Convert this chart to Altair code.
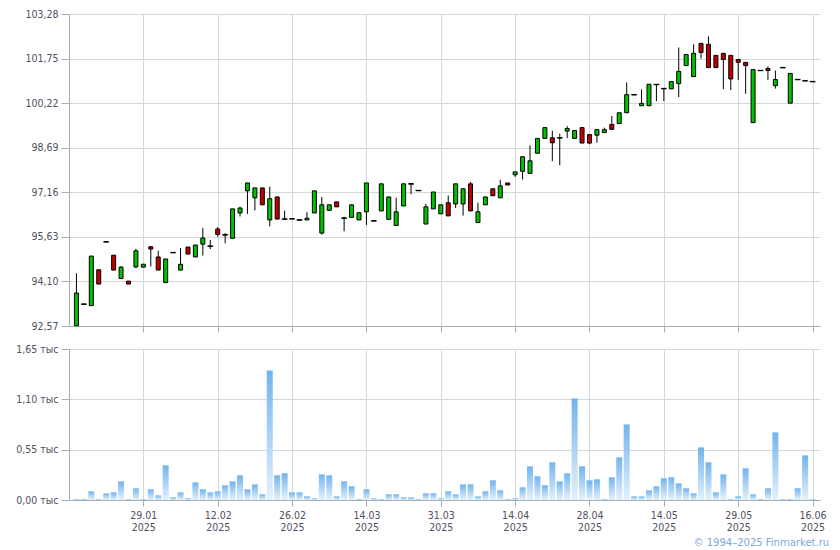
import altair as alt
import pandas as pd

# ---- data ----
opens = [92.58, 93.32, 93.27, 94.50, 95.46, 95.00, 94.20, 94.11, 94.60, 94.59,
         95.29, 94.94, 94.06, 95.09, 94.49, 95.28, 94.94, 95.38, 95.31, 95.90,
         95.70, 95.58, 96.45, 97.21, 96.97, 97.31, 96.21, 97.00, 96.24, 96.25,
         96.21, 96.21, 96.45, 95.76, 96.54, 96.83, 96.27, 96.30, 96.21, 96.49,
         96.18, 96.52, 96.23, 96.02, 96.69, 97.45, 97.22, 96.07, 96.59, 96.42,
         96.80, 96.76, 96.76, 97.45, 96.12, 96.73, 97.28, 96.97, 97.48, 97.76,
         97.88, 97.81, 98.50, 99.01, 99.03, 99.03, 99.26, 99.01, 99.38, 99.14,
         99.12, 99.21, 99.49, 99.52, 99.89, 100.51, 100.13, 100.13, 100.86, 100.72,
         100.71, 100.89, 101.51, 101.13, 102.27, 102.24, 101.86, 101.93, 101.86, 101.72,
         101.62, 99.55, 101.34, 101.41, 100.82, 101.44, 100.22, 101.03, 100.99, 100.96]
highs = [94.38, 93.32, 94.97, 94.50, 95.46, 95.00, 94.63, 94.11, 95.22, 94.69,
         95.31, 95.15, 94.87, 95.09, 95.25, 95.28, 95.35, 95.93, 95.52, 95.97,
         95.76, 96.59, 96.66, 97.48, 97.31, 97.31, 97.35, 97.00, 96.53, 96.25,
         96.21, 96.48, 97.21, 97.00, 96.73, 96.83, 96.32, 96.73, 96.46, 97.48,
         96.18, 97.45, 97.00, 96.97, 97.45, 97.45, 97.22, 96.76, 97.17, 96.73,
         97.05, 97.45, 97.28, 97.52, 96.80, 97.00, 97.28, 97.59, 97.48, 97.86,
         98.38, 98.77, 99.01, 99.38, 99.27, 99.17, 99.43, 99.28, 99.38, 99.14,
         99.31, 99.38, 99.78, 99.89, 100.93, 100.51, 100.69, 100.87, 100.86, 100.72,
         100.96, 102.13, 101.89, 102.24, 102.27, 102.51, 101.86, 101.93, 101.86, 101.72,
         101.62, 101.37, 101.34, 101.48, 101.34, 101.44, 101.24, 101.03, 100.99, 100.96]
lows = [92.58, 93.32, 93.27, 94.01, 95.46, 94.49, 94.18, 94.01, 94.55, 94.59,
        94.61, 94.49, 94.06, 95.09, 94.49, 95.04, 94.94, 94.99, 95.21, 95.64,
        95.41, 95.58, 96.33, 96.42, 96.54, 96.73, 95.99, 96.24, 96.24, 96.25,
        96.21, 96.21, 96.45, 95.71, 96.54, 96.66, 95.82, 96.30, 96.21, 96.04,
        96.18, 96.52, 96.23, 96.02, 96.69, 97.09, 97.22, 96.07, 96.59, 96.42,
        96.35, 96.62, 96.36, 96.52, 96.12, 96.73, 97.04, 96.97, 97.41, 97.69,
        97.60, 97.81, 98.50, 99.01, 98.23, 98.09, 99.02, 99.01, 98.85, 98.81,
        98.86, 99.21, 99.32, 99.52, 99.89, 100.51, 100.13, 100.13, 100.29, 100.29,
        100.71, 100.43, 101.51, 101.13, 101.75, 101.44, 101.44, 100.70, 100.67, 101.02,
        100.54, 99.55, 101.34, 101.02, 100.72, 101.44, 100.22, 101.03, 100.99, 100.96]
closes = [93.70, 93.32, 94.97, 94.01, 95.46, 94.49, 94.59, 94.01, 95.15, 94.69,
          95.21, 94.49, 94.87, 95.09, 94.69, 95.04, 95.35, 95.59, 95.31, 95.71,
          95.70, 96.59, 96.62, 97.48, 97.31, 96.73, 96.94, 96.24, 96.24, 96.25,
          96.21, 96.27, 97.21, 96.73, 96.73, 96.66, 96.27, 96.73, 96.46, 97.48,
          96.18, 97.45, 97.00, 96.49, 97.45, 97.45, 97.22, 96.66, 97.17, 96.73,
          96.35, 97.45, 97.28, 96.52, 96.49, 97.00, 97.04, 97.38, 97.41, 97.86,
          98.38, 98.24, 99.01, 99.38, 98.86, 99.03, 99.35, 99.28, 98.85, 98.85,
          99.31, 99.31, 99.32, 99.89, 100.51, 100.51, 100.21, 100.87, 100.86, 100.72,
          100.96, 101.31, 101.89, 101.93, 101.96, 101.44, 101.44, 101.72, 101.05, 101.62,
          101.51, 101.37, 101.34, 101.34, 101.03, 101.44, 101.24, 101.03, 100.99, 100.96]
volumes = [10, 10, 95, 10, 73, 84, 204, 10, 128, 10,
           117, 51, 379, 29, 84, 18, 193, 117, 84, 95,
           161, 204, 270, 117, 171, 62, 1415, 270, 292, 84,
           84, 40, 18, 280, 270, 40, 204, 150, 10, 117,
           18, 10, 62, 62, 29, 29, 10, 73, 73, 18,
           95, 62, 171, 171, 40, 95, 215, 106, 10, 18,
           139, 368, 259, 161, 412, 204, 292, 1110, 368, 215,
           226, 10, 248, 466, 826, 40, 40, 106, 150, 237,
           248, 182, 128, 73, 575, 412, 84, 280, 10, 40,
           346, 62, 10, 128, 739, 10, 10, 128, 488, 10]

tick_index = [9, 19, 29, 39, 49, 59, 69, 79, 89, 99]
tick_day = ["29.01", "12.02", "26.02", "14.03", "31.03",
            "14.04", "28.04", "14.05", "29.05", "16.06"]
tick_year = ["2025"] * 10
price_ticks = [92.57, 94.10, 95.63, 97.16, 98.69, 100.22, 101.75, 103.28]
volume_ticks = [0, 550, 1100, 1650]

df = pd.DataFrame({
    "i": list(range(len(opens))),
    "open": opens, "high": highs, "low": lows, "close": closes,
    "volume": volumes,
})

FONT = "DejaVu Sans Condensed, DejaVu Sans"
LABEL = "#50505e"
GRID = "#d3d8dd"
AXIS = "#a7adb5"
W = 751

xscale = alt.Scale(domain=[-1, 100], nice=False, zero=False, padding=0)
days_js = "[" + ",".join(f"'{d}'" for d in tick_day) + "]"
years_js = "[" + ",".join(f"'{y}'" for y in tick_year) + "]"
pos = "round((datum.value-9)/10)"

x_top = alt.X("i:Q", scale=xscale, title=None,
              axis=alt.Axis(values=tick_index, labels=False, ticks=True,
                            tickSize=6, grid=True))
x_bot = alt.X("i:Q", scale=xscale, title=None,
              axis=alt.Axis(values=tick_index, tickSize=6, grid=True,
                            labelExpr=f"[{days_js}[{pos}], {years_js}[{pos}]]",
                            labelLineHeight=12, labelPadding=4))

yprice = alt.Scale(domain=[92.57, 103.28], nice=False, zero=False)
y_axis_price = alt.Axis(values=price_ticks, tickSize=8, labelPadding=3,
                        labelExpr="replace(format(datum.value, '.2f'), '.', ',')")

base = alt.Chart(df)
wick = base.mark_rule(color="black", strokeWidth=1).encode(
    x=x_top,
    y=alt.Y("low:Q", scale=yprice, axis=y_axis_price, title=None),
    y2="high:Q",
)
body = base.mark_bar(size=4, stroke="black", strokeWidth=1).encode(
    x=x_top,
    y=alt.Y("open:Q", scale=yprice, title=None),
    y2="close:Q",
    fill=alt.condition("datum.close >= datum.open", alt.value("#00c000"), alt.value("#c00000")),
)
flat = base.transform_filter("abs(datum.close - datum.open) < 0.005").mark_tick(
    color="black", thickness=1.5, size=6, orient="horizontal").encode(
    x=x_top,
    y=alt.Y("close:Q", scale=yprice, title=None),
)
price = alt.layer(wick, body, flat).properties(width=W, height=312)

vol = base.mark_bar(size=6, fill=alt.Gradient(
    gradient="linear", x1=0, y1=0, x2=0, y2=1,
    stops=[alt.GradientStop(offset=0, color="#72b4ee"),
           alt.GradientStop(offset=1, color="#e4f1fc")])).encode(
    x=x_bot,
    y=alt.Y("volume:Q", scale=alt.Scale(domain=[0, 1650], nice=False), title=None,
            axis=alt.Axis(values=volume_ticks, tickSize=8, labelPadding=3,
                          labelExpr="replace(format(datum.value/1000, '.2f'), '.', ',') + ' тыс'")),
).properties(width=W, height=151)

chart = alt.vconcat(price, vol, spacing=11).properties(
    padding={"left": 7, "top": 1, "right": 0, "bottom": 0},
    title=alt.TitleParams(text="© 1994–2025 Finmarket.ru", orient="bottom", anchor="end",
                          color="#7ea8e0", font="DejaVu Sans", fontSize=10,
                          fontWeight="normal", offset=5, dx=3),
).configure_view(stroke=None).configure_axis(
    labelFont=FONT, labelFontSize=10.5, labelColor=LABEL,
    domainColor=AXIS, tickColor=AXIS, gridColor=GRID, gridWidth=1,
    domainWidth=1, tickWidth=1,
)

chart.save("out.html", embed_options={"renderer": "svg", "actions": False})
